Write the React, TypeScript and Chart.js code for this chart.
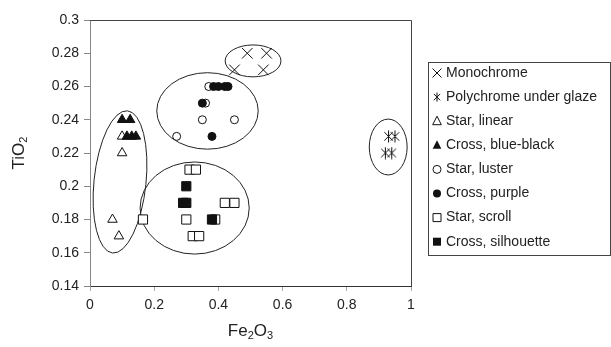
import React, { useEffect, useRef } from 'react';
import { Chart, registerables } from 'chart.js';

Chart.register(...registerables);

const FONT = '"Liberation Sans", Arial, sans-serif';

// Series values: [Fe2O3, TiO2]
const monochrome = [[0.49, 0.28], [0.55, 0.28], [0.45, 0.27], [0.54, 0.27]];
const polychrome = [[0.93, 0.23], [0.95, 0.23], [0.92, 0.22], [0.94, 0.22]];
const starLinear = [[0.1, 0.23], [0.1, 0.22], [0.07, 0.18], [0.09, 0.17]];
const crossBlueBlack = [[0.1, 0.24], [0.125, 0.24], [0.115, 0.23], [0.13, 0.23], [0.143, 0.23]];
const starLuster = [[0.37, 0.26], [0.36, 0.25], [0.35, 0.24], [0.45, 0.24], [0.27, 0.23]];
const crossPurple = [[0.385, 0.26], [0.4, 0.26], [0.42, 0.26], [0.43, 0.26], [0.35, 0.25], [0.38, 0.23]];
const starScroll = [[0.31, 0.21], [0.33, 0.21], [0.42, 0.19], [0.45, 0.19], [0.165, 0.18], [0.3, 0.18], [0.39, 0.18], [0.32, 0.17], [0.34, 0.17]];
const crossSilhouette = [[0.3, 0.2], [0.29, 0.19], [0.3, 0.19], [0.38, 0.18]];

const seriesNames = [
  'Monochrome',
  'Polychrome under glaze',
  'Star, linear',
  'Cross, blue-black',
  'Star, luster',
  'Cross, purple',
  'Star, scroll',
  'Cross, silhouette',
];
const seriesData = [monochrome, polychrome, starLinear, crossBlueBlack, starLuster, crossPurple, starScroll, crossSilhouette];
const seriesMarkers = ['x', 'asterisk', 'triOpen', 'triFilled', 'circOpen', 'circFilled', 'sqOpen', 'sqFilled'];

// Group outlines in data units: centre, half-widths, tilt (deg)
const groupEllipses = [
  { cx: 0.508, cy: 0.2754, rx: 0.087, ry: 0.0096, tilt: 0 },
  { cx: 0.366, cy: 0.2453, rx: 0.158, ry: 0.023, tilt: 0 },
  { cx: 0.0935, cy: 0.2026, rx: 0.081, ry: 0.043, tilt: 6 },
  { cx: 0.326, cy: 0.1869, rx: 0.17, ry: 0.0277, tilt: 0 },
  { cx: 0.929, cy: 0.2236, rx: 0.059, ry: 0.0168, tilt: 0 },
];

const xTitle: [string, boolean][] = [['Fe', false], ['2', true], ['O', false], ['3', true]];
const yTitle: [string, boolean][] = [['TiO', false], ['2', true]];

const INK = '#111';

function makeAsterisk(size: number) {
  const c = document.createElement('canvas');
  c.width = size;
  c.height = size;
  const g = c.getContext('2d')!;
  g.strokeStyle = INK;
  g.lineWidth = 1;
  const m = size / 2;
  const r = size / 2 - 0.5;
  const d = r * Math.SQRT1_2;
  g.beginPath();
  g.moveTo(m, m - r);
  g.lineTo(m, m + r);
  g.moveTo(m - d, m - d);
  g.lineTo(m + d, m + d);
  g.moveTo(m + d, m - d);
  g.lineTo(m - d, m + d);
  g.stroke();
  return c;
}

function drawLegendMarker(ctx: CanvasRenderingContext2D, kind: string, x: number, y: number) {
  ctx.save();
  ctx.strokeStyle = INK;
  ctx.fillStyle = INK;
  ctx.lineWidth = 1;
  ctx.beginPath();
  if (kind === 'x') {
    const d = 4.5;
    ctx.moveTo(x - d, y - d); ctx.lineTo(x + d, y + d);
    ctx.moveTo(x + d, y - d); ctx.lineTo(x - d, y + d);
    ctx.stroke();
  } else if (kind === 'asterisk') {
    const r = 4.5, d = r * Math.SQRT1_2;
    ctx.moveTo(x, y - r); ctx.lineTo(x, y + r);
    ctx.moveTo(x - d, y - d); ctx.lineTo(x + d, y + d);
    ctx.moveTo(x + d, y - d); ctx.lineTo(x - d, y + d);
    ctx.stroke();
  } else if (kind.startsWith('tri')) {
    const r = 5;
    ctx.moveTo(x, y - r);
    ctx.lineTo(x + r * 0.866, y + r * 0.5 + 1);
    ctx.lineTo(x - r * 0.866, y + r * 0.5 + 1);
    ctx.closePath();
    if (kind === 'triFilled') ctx.fill(); else { ctx.fillStyle = '#fff'; ctx.fill(); ctx.stroke(); }
  } else if (kind.startsWith('circ')) {
    ctx.arc(x, y, 4, 0, Math.PI * 2);
    if (kind === 'circFilled') ctx.fill(); else { ctx.fillStyle = '#fff'; ctx.fill(); ctx.stroke(); }
  } else {
    const s = 4;
    ctx.rect(x - s, y - s, 2 * s, 2 * s);
    if (kind === 'sqFilled') ctx.fill(); else { ctx.fillStyle = '#fff'; ctx.fill(); ctx.stroke(); }
  }
  ctx.restore();
}

function drawRuns(ctx: CanvasRenderingContext2D, runs: [string, boolean][], size: number, x: number, y: number) {
  // x is centre; baseline y
  const subSize = Math.round(size * 0.65);
  let total = 0;
  for (const [t, sub] of runs) {
    ctx.font = `${sub ? subSize : size}px ${FONT}`;
    total += ctx.measureText(t).width;
  }
  let cx = x - total / 2;
  ctx.textAlign = 'left';
  ctx.textBaseline = 'alphabetic';
  for (const [t, sub] of runs) {
    ctx.font = `${sub ? subSize : size}px ${FONT}`;
    ctx.fillText(t, cx, sub ? y + size * 0.2 : y);
    cx += ctx.measureText(t).width;
  }
}

const decorPlugin = {
  id: 'decor',
  beforeDatasetsDraw(chart: any) {
    const { ctx, chartArea, scales } = chart;
    const xs = scales.x, ys = scales.y;
    const pxPerX = (xs.getPixelForValue(1) - xs.getPixelForValue(0));
    const pxPerY = (ys.getPixelForValue(0.14) - ys.getPixelForValue(0.3)) / 0.16;
    ctx.save();
    // top and right frame
    ctx.strokeStyle = '#444';
    ctx.lineWidth = 1;
    ctx.beginPath();
    ctx.moveTo(chartArea.left, Math.round(chartArea.top) + 0.5);
    ctx.lineTo(Math.round(chartArea.right) + 0.5, Math.round(chartArea.top) + 0.5);
    ctx.lineTo(Math.round(chartArea.right) + 0.5, chartArea.bottom);
    ctx.stroke();
    // group outlines
    ctx.strokeStyle = '#222';
    for (const e of groupEllipses) {
      ctx.beginPath();
      ctx.ellipse(
        xs.getPixelForValue(e.cx),
        ys.getPixelForValue(e.cy),
        e.rx * pxPerX,
        e.ry * pxPerY,
        (e.tilt * Math.PI) / 180,
        0,
        Math.PI * 2
      );
      ctx.stroke();
    }
    ctx.restore();
  },
  afterDraw(chart: any) {
    const { ctx, chartArea } = chart;
    ctx.save();
    ctx.fillStyle = '#222';
    // axis titles
    drawRuns(ctx, xTitle, 17, (chartArea.left + chartArea.right) / 2, 336);
    ctx.save();
    ctx.translate(24, (chartArea.top + chartArea.bottom) / 2);
    ctx.rotate(-Math.PI / 2);
    drawRuns(ctx, yTitle, 17, 0, 0);
    ctx.restore();
    // legend
    ctx.strokeStyle = '#444';
    ctx.lineWidth = 1;
    ctx.strokeRect(428.5, 62.5, 182, 193);
    ctx.font = `14px ${FONT}`;
    ctx.textBaseline = 'middle';
    ctx.textAlign = 'left';
    seriesNames.forEach((name, i) => {
      const y = 73 + i * 24.1;
      drawLegendMarker(ctx, seriesMarkers[i], 437, y);
      ctx.fillStyle = '#222';
      ctx.fillText(name, 446, y);
    });
    ctx.restore();
  },
};

export default function App() {
  const ref = useRef<HTMLCanvasElement | null>(null);
  useEffect(() => {
    document.body.style.margin = '0';
    const asterisk = makeAsterisk(13);
    const styleFor = (kind: string) => {
      switch (kind) {
        case 'x': return { pointStyle: 'crossRot', radius: 7.5, bg: INK, border: INK };
        case 'asterisk': return { pointStyle: asterisk, radius: 7, bg: INK, border: INK };
        case 'triOpen': return { pointStyle: 'triangle', radius: 5.5, bg: '#fff', border: INK };
        case 'triFilled': return { pointStyle: 'triangle', radius: 5.5, bg: INK, border: INK };
        case 'circOpen': return { pointStyle: 'circle', radius: 4, bg: '#fff', border: INK };
        case 'circFilled': return { pointStyle: 'circle', radius: 4, bg: INK, border: INK };
        case 'sqOpen': return { pointStyle: 'rect', radius: 6.5, bg: '#fff', border: INK };
        default: return { pointStyle: 'rect', radius: 6.5, bg: INK, border: INK };
      }
    };
    const datasets = seriesNames.map((name, i) => {
      const s = styleFor(seriesMarkers[i]);
      return {
        label: name,
        data: seriesData[i].map(([x, y]) => ({ x, y })),
        pointStyle: s.pointStyle as any,
        pointRadius: s.radius,
        pointBackgroundColor: s.bg,
        pointBorderColor: s.border,
        pointBorderWidth: 1,
        showLine: false,
        order: seriesNames.length - 1 - i,
      };
    });
    const tickFont = { family: FONT, size: 14 };
    const chart = new Chart(ref.current!, {
      type: 'scatter',
      data: { datasets },
      options: {
        animation: false,
        responsive: false,
        devicePixelRatio: 1,
        layout: { padding: { left: 0, top: 20, right: 200, bottom: 0 } },
        plugins: { legend: { display: false }, tooltip: { enabled: false } },
        scales: {
          x: {
            type: 'linear',
            min: 0,
            max: 1,
            ticks: {
              stepSize: 0.2,
              font: tickFont,
              color: '#222',
              padding: 6,
              callback: (v: any) => String(parseFloat(Number(v).toFixed(2))),
            },
            grid: { drawOnChartArea: false, tickLength: 5, color: '#aaa' },
            border: { color: '#333' },
            afterFit: (s: any) => { s.height = 61; },
          },
          y: {
            type: 'linear',
            min: 0.14,
            max: 0.3,
            ticks: {
              stepSize: 0.02,
              font: tickFont,
              color: '#222',
              padding: 5,
              callback: (v: any) => String(parseFloat(Number(v).toFixed(2))),
            },
            grid: { drawOnChartArea: false, tickLength: 6, color: '#888' },
            border: { color: '#888' },
            afterFit: (s: any) => { s.width = 90; },
          },
        },
      },
      plugins: [decorPlugin],
    });
    return () => chart.destroy();
  }, []);
  return (
    <div style={{ position: 'fixed', left: 0, top: 0, width: 611, height: 347, background: '#fff' }}>
      <canvas ref={ref} width={611} height={347} />
    </div>
  );
}
